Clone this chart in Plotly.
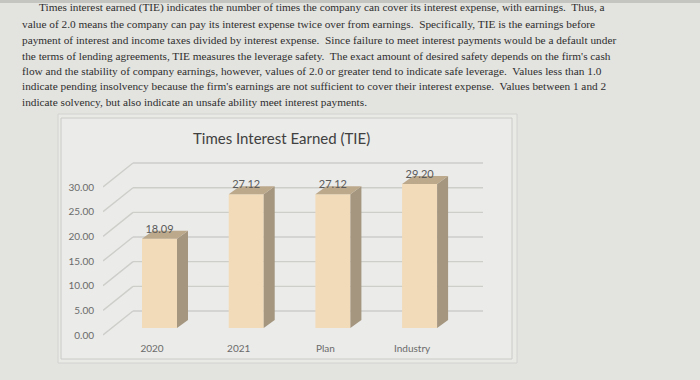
import plotly.graph_objects as go

# ---------------- data ----------------
categories = ["2020", "2021", "Plan", "Industry"]
tie_values = [18.09, 27.12, 27.12, 29.20]
y_ticks = [0, 5, 10, 15, 20, 25, 30]
chart_title = "Times Interest Earned (TIE)"
paragraph_lines = [
    "Times interest earned (TIE) indicates the number of times the company can cover its interest expense, with earnings.\u00a0 Thus, a",
    "value of 2.0 means the company can pay its interest expense twice over from earnings.\u00a0 Specifically, TIE is the earnings before",
    "payment of interest and income taxes divided by interest expense.\u00a0 Since failure to meet interest payments would be a default under",
    "the terms of lending agreements, TIE measures the leverage safety.\u00a0 The exact amount of desired safety depends on the firm's cash",
    "flow and the stability of company earnings, however, values of 2.0 or greater tend to indicate safe leverage.\u00a0 Values less than 1.0",
    "indicate pending insolvency because the firm's earnings are not sufficient to cover their interest expense.\u00a0 Values between 1 and 2",
    "indicate solvency, but also indicate an unsafe ability meet interest payments.",
]

# ---------------- geometry (pixels) ----------------
W, H = 700, 380
X0_PX, X1_PX = 103, 513
Y0_PX, Y1_PX = 361, 117
CAT_PX0, CAT_STEP = 152, 86.7
ZERO_PX, PX_PER_UNIT = 335, 4.933

x_range = [(X0_PX - CAT_PX0) / CAT_STEP, (X1_PX - CAT_PX0) / CAT_STEP]
y_range = [-(Y0_PX - ZERO_PX) / PX_PER_UNIT, (ZERO_PX - Y1_PX) / PX_PER_UNIT]


def dxu(px):
    return px / CAT_STEP


def dyu(px):
    return px / PX_PER_UNIT


def px_x(px):
    return px / W


def px_y(py):
    return 1 - py / H


WALL_DX, WALL_DY = 30, 24
WALL_RIGHT_PX = 483
BAR_SHIFT_X, BAR_BASE_UP = -10, 7
BAR_W, BAR_DX, BAR_DY = 35, 11, 8

front_color = "#f2dbb8"
top_color = "#bca98c"
side_color = "#a4967f"
grid_color = "#cdcdca"

fig = go.Figure()

# chart box + gridlines as shapes (below traces)
shapes = [
    dict(type="rect", xref="paper", yref="paper", layer="below",
         x0=px_x(58), x1=px_x(517), y0=px_y(363), y1=px_y(114),
         line=dict(color="#d2d2cf", width=1), fillcolor="#e9e9e6"),
    dict(type="rect", xref="paper", yref="paper", layer="below",
         x0=px_x(61), x1=px_x(512), y0=px_y(359), y1=px_y(118),
         line=dict(color="#cacac7", width=1), fillcolor="#ebebe9"),
    dict(type="rect", xref="paper", yref="paper", layer="below",
         x0=0, x1=1, y0=px_y(3), y1=1,
         line=dict(width=0), fillcolor="#c4c4c1"),
]
x_left = x_range[0]
x_back = x_left + dxu(WALL_DX)
x_right = (WALL_RIGHT_PX - CAT_PX0) / CAT_STEP
for t in y_ticks:
    shapes.append(dict(type="line", xref="x", yref="y", layer="below",
                       x0=x_left, y0=t, x1=x_back, y1=t + dyu(WALL_DY),
                       line=dict(color=grid_color, width=1.4)))
    shapes.append(dict(type="line", xref="x", yref="y", layer="below",
                       x0=x_back, y0=t + dyu(WALL_DY), x1=x_right, y1=t + dyu(WALL_DY),
                       line=dict(color=grid_color, width=1.4)))

# front faces
xs = list(range(len(categories)))
off = dxu(BAR_SHIFT_X)
bw = dxu(BAR_W)
base = dyu(BAR_BASE_UP)
fig.add_trace(go.Bar(
    x=xs, y=tie_values, base=[base] * len(xs), offset=off, width=bw,
    marker=dict(color=front_color, line=dict(width=0)), hoverinfo="skip",
    showlegend=False,
))

# side and top faces
ddx, ddy = dxu(BAR_DX), dyu(BAR_DY)
sx, sy, tx, ty = [], [], [], []
for i, v in zip(xs, tie_values):
    xl = i + off
    xr = xl + bw
    b = base
    t = base + v
    sx += [xr, xr + ddx, xr + ddx, xr, xr, None]
    sy += [b, b + ddy, t + ddy, t, b, None]
    tx += [xl, xr, xr + ddx, xl + ddx, xl, None]
    ty += [t, t, t + ddy, t + ddy, t, None]
fig.add_trace(go.Scatter(x=sx, y=sy, mode="lines", fill="toself", fillcolor=side_color,
                         line=dict(width=0, color=side_color), hoverinfo="skip", showlegend=False))
fig.add_trace(go.Scatter(x=tx, y=ty, mode="lines", fill="toself", fillcolor=top_color,
                         line=dict(width=0, color=top_color), hoverinfo="skip", showlegend=False))

# data labels
fig.add_trace(go.Scatter(
    x=[i + off + bw / 2 for i in xs],
    y=[base + v + ddy - dyu(5) for v in tie_values],
    mode="text", text=[f"{v:.2f}" for v in tie_values], textposition="top center",
    textfont=dict(family="Lato", size=11, color="#5a5a5a"),
    hoverinfo="skip", showlegend=False, cliponaxis=False,
))

# title
annotations = [dict(text=chart_title, xref="paper", yref="paper", x=px_x(281), y=px_y(138),
                    xanchor="center", yanchor="middle", showarrow=False,
                    font=dict(family="Lato", size=15, color="#404040"))]
# paragraph
para_y = [8, 24, 40, 56, 71, 86, 102]
para_x = [37, 20, 20, 20, 20, 20, 20]
for line, yy, xx in zip(paragraph_lines, para_y, para_x):
    annotations.append(dict(text=line, xref="paper", yref="paper", x=px_x(xx), y=px_y(yy),
                            xanchor="left", yanchor="middle", showarrow=False,
                            font=dict(family="Liberation Serif", size=11.3, color="#2e2e2e")))

fig.update_layout(
    width=W, height=H, margin=dict(l=0, r=0, t=0, b=0),
    paper_bgcolor="#e3e3e0", plot_bgcolor="rgba(0,0,0,0)",
    shapes=shapes, annotations=annotations, showlegend=False,
    xaxis=dict(domain=[px_x(X0_PX), px_x(X1_PX)], range=x_range, tickvals=xs, ticktext=categories,
               anchor="free", position=px_y(341), showgrid=False, zeroline=False, showline=False,
               ticks="", tickfont=dict(family="Lato", size=10, color="#6a6a6a")),
    yaxis=dict(domain=[px_y(Y0_PX), px_y(Y1_PX)], range=y_range, tickvals=y_ticks, tickformat=".2f",
               showgrid=False, zeroline=False, showline=False, ticks="", ticklabelstandoff=8,
               tickfont=dict(family="Lato", size=10, color="#6a6a6a")),
)

fig.write_html("out.html", config={"displayModeBar": False},
               post_script="document.body.style.margin='0';")
